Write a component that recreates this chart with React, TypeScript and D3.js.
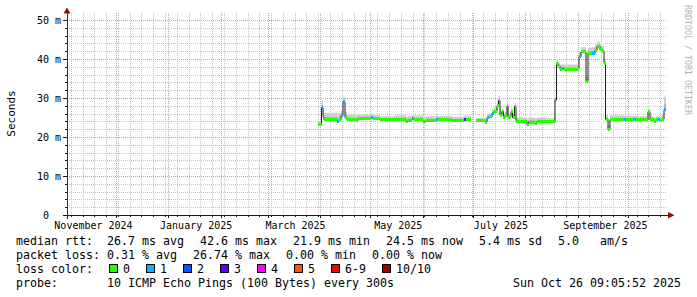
import React from "react";
import * as d3 from "d3";

// ---------- data ----------
const dates = [
  "2025-03-30T20:00Z", "2025-04-01T22:00Z", "2025-04-02T19:30Z", "2025-04-03T09:30Z",
  "2025-04-11T03:00Z", "2025-04-12T07:30Z", "2025-04-13T12:00Z", "2025-04-14T16:30Z",
  "2025-04-15T21:00Z", "2025-04-17T01:30Z", "2025-04-22T10:00Z", "2025-04-23T14:30Z",
  "2025-05-01T07:30Z", "2025-05-02T12:00Z", "2025-05-06T16:00Z", "2025-05-15T13:30Z",
  "2025-05-22T02:30Z", "2025-05-23T07:00Z", "2025-05-25T16:00Z", "2025-05-26T20:30Z",
  "2025-06-01T05:00Z", "2025-06-02T23:30Z", "2025-06-08T22:00Z", "2025-06-10T02:30Z",
  "2025-06-18T10:00Z", "2025-06-25T13:00Z", "2025-06-26T18:00Z", "2025-06-29T17:00Z",
  "2025-07-02T16:30Z", "2025-07-08T00:30Z", "2025-07-09T05:00Z", "2025-07-10T09:30Z",
  "2025-07-12T04:30Z", "2025-07-13T09:00Z", "2025-07-15T03:30Z", "2025-07-16T01:00Z",
  "2025-07-16T22:30Z", "2025-07-18T03:00Z", "2025-07-19T00:00Z", "2025-07-19T21:30Z",
  "2025-07-21T02:00Z", "2025-07-21T16:30Z", "2025-07-22T21:00Z", "2025-07-23T11:00Z",
  "2025-07-24T08:30Z", "2025-07-25T13:00Z", "2025-07-26T10:30Z", "2025-08-01T23:00Z",
  "2025-08-02T20:30Z", "2025-08-06T17:00Z", "2025-08-07T21:30Z", "2025-08-12T15:30Z",
  "2025-08-18T14:00Z", "2025-08-19T11:30Z", "2025-08-20T09:00Z", "2025-08-21T13:30Z",
  "2025-08-22T18:00Z", "2025-08-23T22:30Z", "2025-09-01T06:00Z", "2025-09-01T20:00Z",
  "2025-09-03T00:30Z", "2025-09-06T00:00Z", "2025-09-07T04:30Z", "2025-09-09T06:30Z",
  "2025-09-11T08:30Z", "2025-09-12T13:00Z", "2025-09-14T07:30Z", "2025-09-15T12:00Z",
  "2025-09-16T17:00Z", "2025-09-17T14:00Z", "2025-09-19T02:00Z", "2025-09-20T06:00Z",
  "2025-09-28T14:00Z", "2025-09-29T18:30Z", "2025-10-04T12:00Z", "2025-10-05T17:00Z",
  "2025-10-12T20:00Z", "2025-10-14T00:30Z", "2025-10-16T09:30Z", "2025-10-17T14:00Z",
  "2025-10-18T18:30Z", "2025-10-19T23:00Z", "2025-10-21T03:30Z", "2025-10-22T08:00Z",
  "2025-10-23T12:45Z",
];

// median rtt in ms (null = no data)
const medianMs: (number | null)[] = [
  23.3, 27.5, 25.2, 24.4, 24.0, 24.4, 25.5, 29.0,
  25.0, 24.4, 24.2, 24.8, 25.0, 24.7, 24.4, 24.5,
  23.9, 24.3, 24.7, 24.4, 23.9, 24.3, 24.6, 24.4,
  24.2, 24.6, 24.4, null, 24.2, 23.8, 25.0, 25.2,
  26.1, 26.6, 28.0, 29.3, 25.6, 26.5, 24.9, 25.6,
  28.0, 25.0, 25.2, 26.5, 25.0, 27.8, 24.0, 23.1,
  23.8, 23.5, 24.0, 23.9, 29.5, 38.8, 38.2, 37.4,
  37.5, 37.4, 37.5, 40.6, 41.8, 34.2, 41.5, 41.4,
  42.3, 43.2, 42.4, 42.0, 38.9, 24.6, 22.0, 24.4,
  24.5, 24.4, 24.5, 24.4, 26.5, 24.4, 24.1, 24.4,
  24.5, 24.3, 24.6, 27.0, 27.0,
];

// top of the smoke (slowest pings) in ms
const smokeHighMs: (number | null)[] = [
  24.2, 29.5, 26.8, 26.2, 26.0, 26.2, 26.8, 30.3,
  26.5, 25.8, 25.6, 25.8, 25.9, 25.6, 25.3, 25.6,
  25.2, 25.4, 25.6, 25.5, 25.0, 25.3, 25.5, 25.4,
  25.2, 25.5, 25.4, null, 24.9, 24.8, 25.8, 26.0,
  27.0, 27.5, 29.0, 30.5, 27.0, 27.5, 26.0, 26.5,
  29.0, 26.0, 26.0, 27.5, 26.0, 28.8, 25.0, 24.5,
  25.0, 24.8, 25.0, 24.8, 30.2, 40.0, 39.2, 38.6,
  38.6, 38.6, 38.5, 41.8, 43.0, 35.5, 42.8, 43.0,
  43.8, 44.4, 43.8, 43.4, 40.0, 25.6, 23.0, 25.6,
  25.5, 25.4, 25.4, 25.3, 27.2, 25.3, 25.0, 25.3,
  25.4, 25.3, 25.6, 30.3, 30.3,
];

// lost pings out of 10
const lossCount = [
  0, 1, 1, 0, 1, 0, 1, 1,
  0, 0, 0, 0, 1, 0, 0, 0,
  0, 0, 1, 0, 0, 0, 1, 0,
  0, 3, 0, 0, 0, 0, 1, 0,
  1, 0, 0, 1, 0, 0, 0, 0,
  0, 0, 0, 0, 0, 0, 0, 0,
  0, 0, 0, 0, 1, 0, 0, 0,
  1, 0, 0, 1, 0, 0, 0, 1,
  0, 0, 0, 0, 0, 0, 0, 0,
  1, 0, 1, 0, 0, 0, 0, 0,
  1, 0, 0, 1, 1,
];

const lossLabels = ["0", "1", "2", "3", "4", "5", "6-9", "10/10"];
const lossColors = ["#26ff00", "#00b8ff", "#0059ff", "#5e00ff", "#ff00ff", "#ff5500", "#ff0000", "#a00000"];
const lossColorIndex = (n: number) => (n <= 5 ? n : n < 10 ? 6 : 7);

const yMajorTicks = [0, 10, 20, 30, 40, 50];
const labelMonths = ["2024-11-01", "2025-01-01", "2025-03-01", "2025-05-01", "2025-07-01", "2025-09-01"];

const legendLine1 = ["median rtt:  26.7 ms avg", "42.6 ms max", "21.9 ms min", "24.5 ms now", "5.4 ms sd", "5.0   am/s"];
const legendLine2 = ["packet loss: 0.31 % avg", "26.74 % max", "0.00 % min", "0.00 % now"];
const legendLossTitle = "loss color:";
const probeText = "probe:       10 ICMP Echo Pings (100 Bytes) every 300s";
const stampText = "Sun Oct 26 09:05:52 2025";
const yTitle = "Seconds";
const watermark = "RRDTOOL / TOBI OETIKER";

// ---------- layout ----------
const W = 697;
const H = 297;
const L = 67, R = 667, T = 13, B = 215;
const MONO = "DejaVu Sans Mono";
const LEG_FS = 11.63;
const CH = 7; // legend char advance
const GAP = 16;

const x = d3.scaleUtc()
  .domain([new Date("2024-11-01T18:30:00Z"), new Date("2025-10-24T02:30:00Z")])
  .range([L, R]);
const y = d3.scaleLinear().domain([0, 51.8]).range([B, T]);

const crisp = (v: number) => Math.round(v) + 0.5;

export default function App() {
  const rows = dates.map((d, i) => ({
    date: new Date(d),
    med: medianMs[i],
    hi: smokeHighMs[i],
    loss: lossCount[i],
  }));
  const segs = rows
    .slice(0, -1)
    .map((r, i) => ({ ...r, end: rows[i + 1].date }))
    .filter((s) => s.med != null);

  // step points with breaks
  type P = { t: Date; med: number; hi: number } | null;
  const pts: P[] = [];
  segs.forEach((s, i) => {
    pts.push({ t: s.date, med: s.med as number, hi: s.hi as number });
    pts.push({ t: s.end, med: s.med as number, hi: s.hi as number });
    const next = segs[i + 1];
    if (next && next.date.getTime() !== s.end.getTime()) pts.push(null);
  });
  // connect vertical transitions of the median line
  const linePts: P[] = pts;

  const smokeOuter = d3.area<P>()
    .defined((p) => p != null)
    .x((p) => x(p!.t))
    .y0((p) => y(p!.med - 0.4))
    .y1((p) => y(p!.hi));
  const smokeInner = d3.area<P>()
    .defined((p) => p != null)
    .x((p) => x(p!.t))
    .y0((p) => y(p!.med - 0.3))
    .y1((p) => y(p!.med + (p!.hi - p!.med) * 0.4));
  const medLine = d3.line<P>()
    .defined((p) => p != null)
    .x((p) => x(p!.t))
    .y((p) => y(p!.med));

  const [d0, d1] = x.domain();
  const weeks = d3.utcMonday.range(d0, d1);
  const months = d3.utcMonth.range(d0, d1);
  const minorY = d3.range(2, 52, 2).filter((v) => v % 10 !== 0);

  // legend layouts
  let cx = 16;
  const line1 = legendLine1.map((s) => {
    const p = cx;
    cx += s.length * CH + GAP;
    return { s, p };
  });
  cx = 16;
  const line2 = legendLine2.map((s) => {
    const p = cx;
    cx += s.length * CH + GAP;
    return { s, p };
  });
  cx = 16 + legendLossTitle.length * CH + GAP;
  const boxes = lossLabels.map((s, i) => {
    const p = cx;
    cx += 14 + s.length * CH + GAP;
    return { s, p, c: lossColors[i] };
  });

  return (
    <svg
      width={W}
      height={H}
      viewBox={`0 0 ${W} ${H}`}
      style={{ position: "absolute", left: 0, top: 0, background: "#fff" }}
    >
      <rect x={0} y={0} width={W} height={H} fill="#ffffff" />

      {/* minor grid */}
      <g stroke="#c4c4c4" strokeWidth={1} strokeDasharray="1,1" shapeRendering="crispEdges">
        {weeks.map((w, i) => (
          <line key={"wv" + i} x1={crisp(x(w))} x2={crisp(x(w))} y1={T} y2={B} />
        ))}
        {minorY.map((v) => (
          <line key={"hy" + v} x1={L} x2={R} y1={crisp(y(v))} y2={crisp(y(v))} />
        ))}
      </g>
      {/* major grid */}
      <g stroke="#e49494" strokeWidth={1} strokeDasharray="1,1" shapeRendering="crispEdges">
        {months.map((m, i) => (
          <line key={"mv" + i} x1={crisp(x(m))} x2={crisp(x(m))} y1={T} y2={B} />
        ))}
        {yMajorTicks.filter((v) => v > 0).map((v) => (
          <line key={"my" + v} x1={L} x2={R} y1={crisp(y(v))} y2={crisp(y(v))} />
        ))}
      </g>

      {/* smoke */}
      <path d={smokeOuter(pts) || ""} fill="#cecece" />
      <path d={smokeInner(pts) || ""} fill="#b2b2b2" />
      {/* median line */}
      <path d={medLine(linePts) || ""} fill="none" stroke="#202020" strokeWidth={1} />
      {/* loss coloured median band */}
      <g shapeRendering="crispEdges">
        {segs.map((s, i) => (
          <rect
            key={"b" + i}
            x={x(s.date)}
            width={Math.max(1, x(s.end) - x(s.date))}
            y={y(s.med as number) - 1.5}
            height={3}
            fill={lossColors[lossColorIndex(s.loss)]}
          />
        ))}
      </g>

      {/* axes */}
      <g stroke="#1a1a1a" strokeWidth={1} shapeRendering="crispEdges">
        <line x1={63} x2={669} y1={crisp(B)} y2={crisp(B)} />
        <line x1={crisp(L - 0.5)} x2={crisp(L - 0.5)} y1={T - 1} y2={B + 4} stroke="#4a2424" />
        {yMajorTicks.map((v) => (
          <line key={"yt" + v} x1={63} x2={L} y1={crisp(y(v))} y2={crisp(y(v))} />
        ))}
        {minorY.map((v) => (
          <line key={"ymt" + v} x1={65} x2={L} y1={crisp(y(v))} y2={crisp(y(v))} />
        ))}
        {months.map((m, i) => (
          <line key={"xt" + i} x1={crisp(x(m))} x2={crisp(x(m))} y1={B} y2={B + 3} />
        ))}
        {weeks.map((w, i) => (
          <line key={"xmt" + i} x1={crisp(x(w))} x2={crisp(x(w))} y1={B} y2={B + 2} />
        ))}
      </g>
      <path d={`M668,212L668,218.5L674.5,215.2Z`} fill="#8b1010" />
      <path d={`M63.5,13.5L70.5,13.5L67,7.5Z`} fill="#8b1010" />

      {/* y tick labels */}
      <g fontFamily={MONO} fontSize={10} fill="#000">
        {yMajorTicks.map((v) => (
          <g key={"yl" + v}>
            <text x={49} y={y(v) + 3.6} textAnchor="end">{String(v)}</text>
            {v > 0 && <text x={55} y={y(v) + 3.6}>m</text>}
          </g>
        ))}
        {labelMonths.map((m) => {
          const t = new Date(m + "T00:00:00Z");
          const c = d3.utcHour.offset(t, 16.5 * 24);
          return (
            <text key={m} x={x(c)} y={228.5} textAnchor="middle">
              {d3.utcFormat("%B %Y")(t)}
            </text>
          );
        })}
      </g>

      {/* y title */}
      <text
        transform={`translate(15,113.5) rotate(-90)`}
        textAnchor="middle"
        fontFamily={MONO}
        fontSize={11}
        fill="#000"
      >
        {yTitle}
      </text>

      {/* watermark */}
      <text
        transform={`translate(685,5) rotate(90)`}
        fontFamily={MONO}
        fontSize={8.3}
        fill="#b4b4b4"
      >
        {watermark}
      </text>

      {/* legend */}
      <g fontFamily={MONO} fontSize={LEG_FS} fill="#000" style={{ whiteSpace: "pre" }}>
        {line1.map((it, i) => (
          <text key={"l1" + i} x={it.p} y={245} xmlSpace="preserve">{it.s}</text>
        ))}
        {line2.map((it, i) => (
          <text key={"l2" + i} x={it.p} y={259} xmlSpace="preserve">{it.s}</text>
        ))}
        <text x={16} y={273}>{legendLossTitle}</text>
        {boxes.map((b, i) => (
          <g key={"bx" + i}>
            <rect x={b.p + 0.5} y={264.5} width={8} height={8} fill={b.c} stroke="#000" strokeWidth={1} />
            <text x={b.p + 14} y={273}>{b.s}</text>
          </g>
        ))}
        <text x={16} y={287} xmlSpace="preserve">{probeText}</text>
        <text x={681} y={287} textAnchor="end">{stampText}</text>
      </g>
    </svg>
  );
}
